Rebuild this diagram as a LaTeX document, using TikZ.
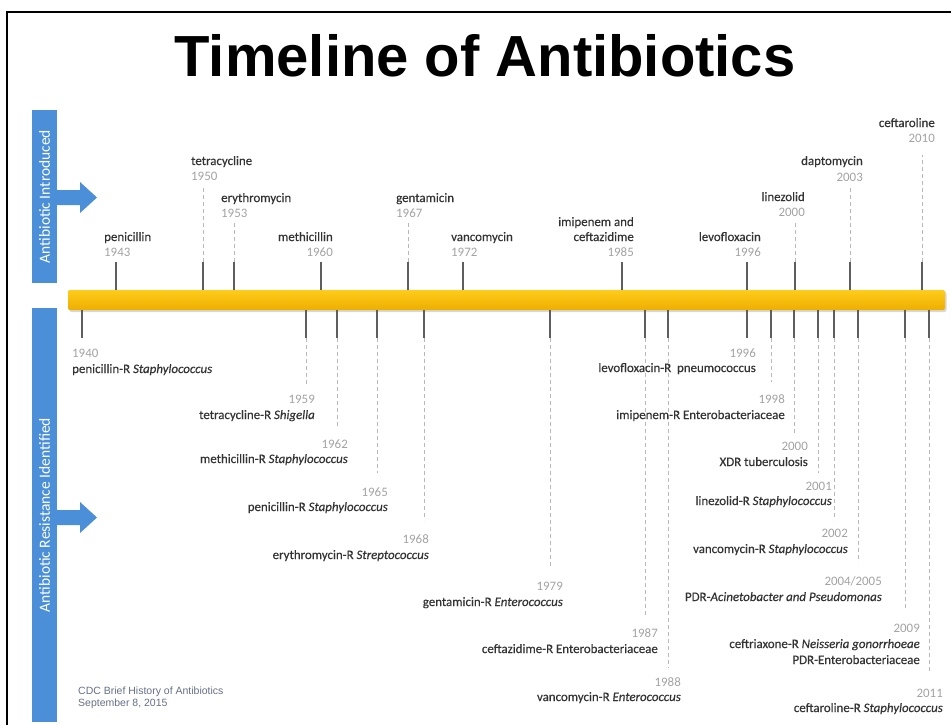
\documentclass[tikz,border=0pt]{standalone}
\usepackage{fontspec}
\setmainfont{Carlito}
\newfontfamily\titlefam{Liberation Sans}
\newfontfamily\notefam{Liberation Sans}
\newfontfamily\namefam[FakeBold=0.35]{Carlito}
\usetikzlibrary{shadows}
\definecolor{sideblue}{HTML}{4A8FD8}
\definecolor{bartop}{HTML}{FFCC1A}
\definecolor{barbot}{HTML}{EDAE00}
\definecolor{tickc}{HTML}{5E5E5E}
\definecolor{guidec}{HTML}{B8B8B8}
\definecolor{yearc}{HTML}{A3A3A3}
\definecolor{namec}{HTML}{333333}
\definecolor{notec}{HTML}{667086}
\newcommand\labfont{\fontsize{12.9}{15}\selectfont}
\newcommand\tup[2]{\coordinate (u#1) at (#2,290); \coordinate (v#1) at (#2,262); \draw[tick] (u#1) -- (v#1);}
\newcommand\gup[3]{\coordinate (w#1) at (#2,#3); \draw[guide] (v#1) -- (w#1);}
\newcommand\tdn[2]{\coordinate (p#1) at (#2,310); \coordinate (q#1) at (#2,338); \draw[tick] (p#1) -- (q#1);}
\newcommand\gdn[3]{\coordinate (r#1) at (#2,#3); \draw[guide] (q#1) -- (r#1);}
\tikzset{
  tick/.style={draw=tickc, line width=1.5pt},
  guide/.style={draw=guidec, line width=1pt, dash pattern=on 4pt off 3pt},
  nm/.style={font=\namefam\labfont, text=namec, inner sep=0pt},
  yr/.style={font=\labfont, text=yearc, inner sep=0pt},
  sidebar/.style={rotate=90, fill=sideblue, text=white, inner sep=0pt,
    font=\fontsize{15.5}{17}\selectfont, minimum height=25pt},
  arrowshape/.style={fill=sideblue},
  timebar/.style={shade, top color=bartop, bottom color=barbot, rounded corners=2pt,
    minimum width=877pt, minimum height=20pt, inner sep=0pt,
    drop shadow={opacity=0.3, shadow xshift=1.5pt, shadow yshift=-2pt}},
  note/.style={font=\notefam\fontsize{10.5}{12}\selectfont, text=notec, inner sep=0pt}
}
\begin{document}
\begin{tikzpicture}[x=1pt,y=-1pt]
\useasboundingbox (0,0) rectangle (951,725);
\fill[white] (0,0) rectangle (951,725);
% frame
\draw[line width=2pt] (6.5,725) -- (6.5,12.3) -- (951,12.3);
% title
\node[anchor=base, inner sep=0pt, font=\titlefam\bfseries\fontsize{58}{60}\selectfont] (title) at (485,77) {Timeline of Antibiotics};
% side bars
\node[sidebar, minimum width=173pt] (sideI) at (44.5,196.5) {Antibiotic Introduced};
\node[sidebar, minimum width=414pt] (sideR) at (44.5,515) {Antibiotic Resistance Identified};
\fill[arrowshape] (56,190) -- (80,190) -- (80,182) -- (97,197.5) -- (80,213) -- (80,205) -- (56,205) -- cycle;
\fill[arrowshape] (56,510) -- (80,510) -- (80,502) -- (97,517.5) -- (80,533) -- (80,525) -- (56,525) -- cycle;
% timeline bar
\node[timebar] (bar) at (506.5,300) {};
% ---------- introduced (top) ----------
\tup{1943}{116}
\node[nm, anchor=base west] (nt1943) at (104,241) {penicillin};
\node[yr, anchor=base west] (yt1943) at (104,256) {1943};
\tup{1950}{203} \gup{1950}{203}{188}
\node[nm, anchor=base west] (nt1950) at (191,165) {tetracycline};
\node[yr, anchor=base west] (yt1950) at (191,180) {1950};
\tup{1953}{234} \gup{1953}{234}{223}
\node[nm, anchor=base west] (nt1953) at (221,202) {erythromycin};
\node[yr, anchor=base west] (yt1953) at (221,217) {1953};
\tup{1960}{321}
\node[nm, anchor=base east] (nt1960) at (333,241) {methicillin};
\node[yr, anchor=base east] (yt1960) at (333,256) {1960};
\tup{1967}{408} \gup{1967}{408}{223}
\node[nm, anchor=base west] (nt1967) at (396,202) {gentamicin};
\node[yr, anchor=base west] (yt1967) at (396,217) {1967};
\tup{1972}{463}
\node[nm, anchor=base west] (nt1972) at (451,241) {vancomycin};
\node[yr, anchor=base west] (yt1972) at (451,256) {1972};
\tup{1985}{622}
\node[nm, anchor=base east] (nt1985a) at (634,226) {imipenem and};
\node[nm, anchor=base east] (nt1985b) at (634,241) {ceftazidime};
\node[yr, anchor=base east] (yt1985) at (634,256) {1985};
\tup{1996}{747}
\node[nm, anchor=base east] (nt1996) at (761,241) {levofloxacin};
\node[yr, anchor=base east] (yt1996) at (761,256) {1996};
\tup{2000}{795} \gup{2000}{795}{222}
\node[nm, anchor=base east] (nt2000) at (805,201) {linezolid};
\node[yr, anchor=base east] (yt2000) at (805,216) {2000};
\tup{2003}{850} \gup{2003}{850}{187}
\node[nm, anchor=base east] (nt2003) at (863,165) {daptomycin};
\node[yr, anchor=base east] (yt2003) at (863,181) {2003};
\tup{2010}{922} \gup{2010}{922}{155}
\node[nm, anchor=base east] (nt2010) at (935,127) {ceftaroline};
\node[yr, anchor=base east] (yt2010) at (935,142) {2010};
% ---------- resistance (bottom) ----------
\tdn{1940}{82}
\node[yr, anchor=base west] (yb1940) at (72,357) {1940};
\node[nm, anchor=base west] (nb1940) at (72,373) {penicillin-R \textit{Staphylococcus}};
\tdn{1959}{306} \gdn{1959}{306}{385}
\node[yr, anchor=base east] (yb1959) at (315,403) {1959};
\node[nm, anchor=base east] (nb1959) at (315,419) {tetracycline-R \textit{Shigella}};
\tdn{1962}{337} \gdn{1962}{337}{427}
\node[yr, anchor=base east] (yb1962) at (348,448) {1962};
\node[nm, anchor=base east] (nb1962) at (348,463) {methicillin-R \textit{Staphylococcus}};
\tdn{1965}{377} \gdn{1965}{377}{473}
\node[yr, anchor=base east] (yb1965) at (388,496) {1965};
\node[nm, anchor=base east] (nb1965) at (388,511) {penicillin-R \textit{Staphylococcus}};
\tdn{1968}{424} \gdn{1968}{424}{520}
\node[yr, anchor=base east] (yb1968) at (429,543) {1968};
\node[nm, anchor=base east] (nb1968) at (429,559) {erythromycin-R \textit{Streptococcus}};
\tdn{1979}{550} \gdn{1979}{550}{567}
\node[yr, anchor=base east] (yb1979) at (563,590) {1979};
\node[nm, anchor=base east] (nb1979) at (563,606) {gentamicin-R \textit{Enterococcus}};
\tdn{1987}{645} \gdn{1987}{645}{615}
\node[yr, anchor=base east] (yb1987) at (658,637) {1987};
\node[nm, anchor=base east] (nb1987) at (658,653) {ceftazidime-R Enterobacteriaceae};
\tdn{1988}{668} \gdn{1988}{668}{668}
\node[yr, anchor=base east] (yb1988) at (681,686) {1988};
\node[nm, anchor=base east] (nb1988) at (681,701) {vancomycin-R \textit{Enterococcus}};
\tdn{1996}{747}
\node[yr, anchor=base east] (yb1996) at (756,357) {1996};
\node[nm, anchor=base east] (nb1996) at (756,372) {levofloxacin-R\ \ pneumococcus};
\tdn{1998}{771} \gdn{1998}{771}{382}
\node[yr, anchor=base east] (yb1998) at (785,403) {1998};
\node[nm, anchor=base east] (nb1998) at (785,419) {imipenem-R Enterobacteriaceae};
\tdn{2000}{794} \gdn{2000}{794}{433}
\node[yr, anchor=base east] (yb2000) at (808,450) {2000};
\node[nm, anchor=base east] (nb2000) at (808,466) {XDR tuberculosis};
\tdn{2001}{818} \gdn{2001}{818}{473}
\node[yr, anchor=base east] (yb2001) at (832,490) {2001};
\node[nm, anchor=base east] (nb2001) at (832,505) {linezolid-R \textit{Staphylococcus}};
\tdn{2002}{834} \gdn{2002}{834}{520}
\node[yr, anchor=base east] (yb2002) at (848,537) {2002};
\node[nm, anchor=base east] (nb2002) at (848,553) {vancomycin-R \textit{Staphylococcus}};
\tdn{2004}{858} \gdn{2004}{858}{562}
\node[yr, anchor=base east] (yb2004) at (882,585) {2004/2005};
\node[nm, anchor=base east] (nb2004) at (882,601) {PDR-\textit{Acinetobacter and Pseudomonas}};
\tdn{2009}{905} \gdn{2009}{905}{609}
\node[yr, anchor=base east] (yb2009) at (920,632) {2009};
\node[nm, anchor=base east] (nb2009a) at (920,648) {ceftriaxone-R \textit{Neisseria gonorrhoeae}};
\node[nm, anchor=base east] (nb2009b) at (920,664) {PDR-Enterobacteriaceae};
\tdn{2011}{929} \gdn{2011}{929}{673}
\node[yr, anchor=base east] (yb2011) at (943,697) {2011};
\node[nm, anchor=base east] (nb2011) at (943,712) {ceftaroline-R \textit{Staphylococcus}};
% footer note
\node[note, anchor=base west] (note1) at (78,694) {CDC Brief History of Antibiotics};
\node[note, anchor=base west] (note2) at (78,706) {September 8, 2015};
\end{tikzpicture}
\end{document}
